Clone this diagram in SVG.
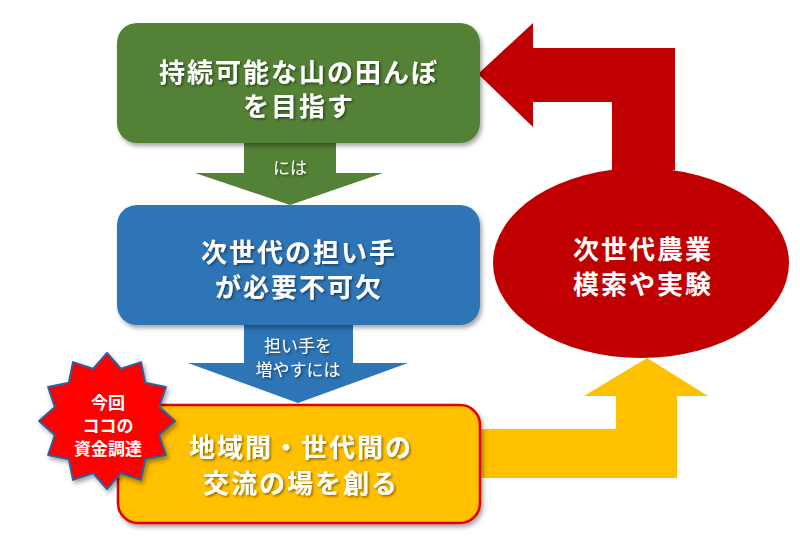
<svg xmlns="http://www.w3.org/2000/svg" width="800" height="554" viewBox="0 0 800 554">
<defs>
<filter id="sh" x="-10%" y="-10%" width="125%" height="125%">
<feDropShadow dx="2" dy="3" stdDeviation="2" flood-color="#000" flood-opacity="0.35"/>
</filter>
<filter id="tsh" x="-5%" y="-20%" width="115%" height="150%">
<feDropShadow dx="1.5" dy="1.5" stdDeviation="0.8" flood-color="#000" flood-opacity="0.45"/>
</filter>
</defs>
<style>
text{font-family:"Noto Sans CJK JP","Noto Sans",sans-serif;text-anchor:middle;dominant-baseline:central}
.big{font-size:26px;font-weight:bold;fill:#fff;letter-spacing:2px}
.sm{font-size:17px;fill:#fff}
.st{font-size:17px;font-weight:bold;fill:#fff}
</style>
<rect width="800" height="554" fill="#fff"/>
<g id="connectors">
<polygon id="a-green" points="244,143 336,143 336,173 383,173 290,205 195,173 244,173" fill="#538135"/>
<polygon id="a-blue" points="244,325 353,325 353,363 408,363 298,403 188,363 244,363" fill="#2E75B6"/>
<polygon id="a-red" points="612,170 612,102 533,102 533,127 478,74 533,23 533,48 675,48 675,170" fill="#C00000"/>
<polygon id="a-yellow" points="480,429 616,429 616,396 584,396 647,358 708,396 677,396 677,478 480,478" fill="#FFC000"/>
<text class="sm" x="290" y="166" filter="url(#tsh)">には</text>
<text class="sm" x="298" y="344" filter="url(#tsh)">担い手を</text>
<text class="sm" x="298" y="368" filter="url(#tsh)">増やすには</text>
</g>
<g id="n-green">
<rect x="117" y="23" width="363" height="120" rx="20" fill="#538135" filter="url(#sh)"/>
<text class="big" x="299" y="70" filter="url(#tsh)">持続可能な山の田んぼ</text>
<text class="big" x="299" y="104" filter="url(#tsh)">を目指す</text>
</g>
<g id="n-blue">
<rect x="117" y="205" width="363" height="120" rx="20" fill="#2E75B6" filter="url(#sh)"/>
<text class="big" x="299" y="250" filter="url(#tsh)">次世代の担い手</text>
<text class="big" x="299" y="285" filter="url(#tsh)">が必要不可欠</text>
</g>
<g id="n-orange">
<rect x="118" y="405" width="362" height="118" rx="20" fill="#FFC000" stroke="#E00000" stroke-width="2.5" filter="url(#sh)"/>
<text class="big" x="301" y="445" fill="#FFF8E0" filter="url(#tsh)">地域間・世代間の</text>
<text class="big" x="301" y="481" fill="#FFF8E0" filter="url(#tsh)">交流の場を創る</text>
</g>
<g id="n-red">
<ellipse cx="641" cy="263" rx="148" ry="95" fill="#C00000"/>
<text class="big" x="643" y="247">次世代農業</text>
<text class="big" x="643" y="282">模索や実験</text>
</g>
<g id="n-star">
<polygon points="107,353 121,368.8 141,362.1 145.2,382.8 165.9,387 159.2,407 175,421 159.2,435 165.9,455 145.2,459.2 141,479.9 121,473.2 107,489 93,473.2 73,479.9 68.8,459.2 48.1,455 54.8,435 39,421 54.8,407 48.1,387 68.8,382.8 73,362.1 93,368.8" fill="#FF0000" stroke="#2E5F9E" stroke-width="2" stroke-linejoin="round" filter="url(#sh)"/>
<text class="st" x="108" y="401">今回</text>
<text class="st" x="108" y="424">ココの</text>
<text class="st" x="108" y="447">資金調達</text>
</g>
</svg>
